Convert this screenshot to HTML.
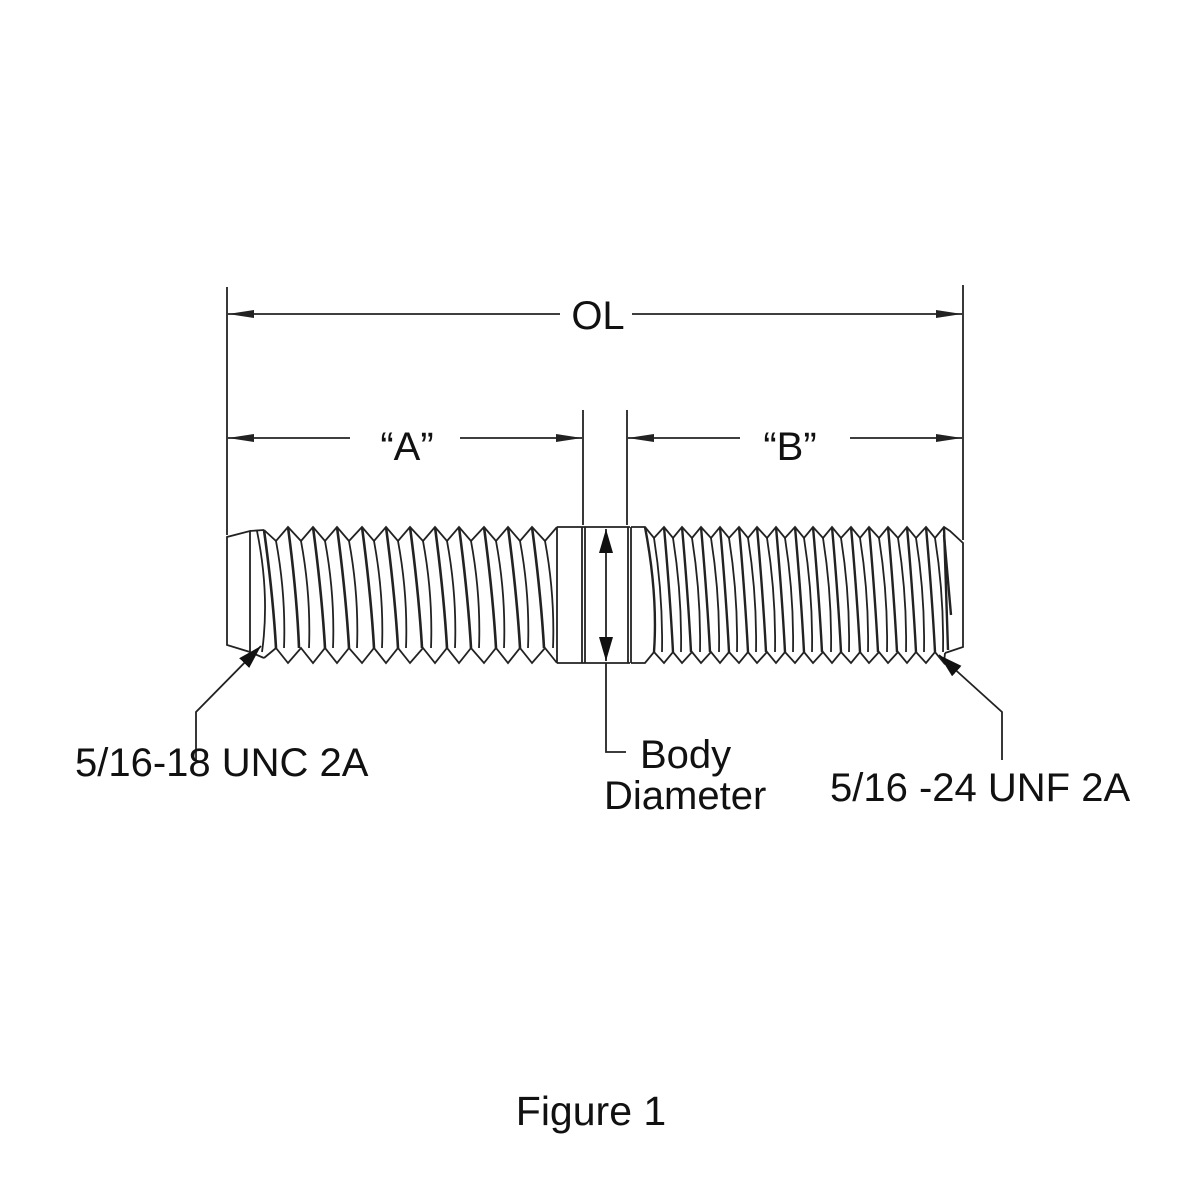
<!DOCTYPE html>
<html><head><style>body{margin:0;background:#fff}svg{display:block}</style></head>
<body>
<svg width="1200" height="1200" viewBox="0 0 1200 1200" xmlns="http://www.w3.org/2000/svg" font-family="Liberation Sans, sans-serif" fill="none" stroke="#222" stroke-width="1.8">
<defs><marker id="ar" viewBox="0 0 10 10" refX="10" refY="5" markerWidth="26" markerHeight="10" markerUnits="userSpaceOnUse" orient="auto" preserveAspectRatio="none"><path d="M0,1 L10,5 L0,9 Z" fill="#222" stroke="none"/></marker>
<marker id="al" viewBox="0 0 10 10" refX="10" refY="5" markerWidth="24" markerHeight="14" markerUnits="userSpaceOnUse" orient="auto" preserveAspectRatio="none"><path d="M0,0 L10,5 L0,10 Z" fill="#111" stroke="none"/></marker></defs>
<line x1="227" y1="287" x2="227" y2="535"/>
<line x1="963" y1="285" x2="963" y2="540"/>
<line x1="583" y1="410" x2="583" y2="525"/>
<line x1="627" y1="410" x2="627" y2="525"/>
<line x1="560" y1="314" x2="228" y2="314" marker-end="url(#ar)"/>
<line x1="632" y1="314" x2="962" y2="314" marker-end="url(#ar)"/>
<line x1="350" y1="438" x2="228" y2="438" marker-end="url(#ar)"/>
<line x1="460" y1="438" x2="582" y2="438" marker-end="url(#ar)"/>
<line x1="740" y1="438" x2="628" y2="438" marker-end="url(#ar)"/>
<line x1="850" y1="438" x2="962" y2="438" marker-end="url(#ar)"/>
<!-- left end -->
<path d="M227,537 V645 L250,652 L250,531 Z M250,531 L264,530 M250,652 L264,658 M257,531 Q270,595 262,652"/>
<path d="M264,530 L276,541 L288,527 L301,541 L313,527 L325,541 L337,527 L349,541 L362,527 L374,541 L386,527 L398,541 L410,527 L423,541 L435,527 L447,541 L459,527 L471,541 L484,527 L496,541 L508,527 L520,541 L532,527 L545,541 L557,527"/>
<path d="M264,658 L276,648 L288,663 L301,648 L313,663 L325,648 L337,663 L349,648 L362,663 L374,648 L386,663 L398,648 L410,663 L423,648 L435,663 L447,648 L459,663 L471,648 L484,663 L496,648 L508,663 L520,648 L532,663 L545,648 L557,663"/>
<path d="M276,541 Q286,595 284,648 M301,541 Q311,595 309,648 M325,541 Q335,595 333,648 M349,541 Q359,595 357,648 M374,541 Q384,595 382,648 M398,541 Q408,595 406,648 M423,541 Q433,595 431,648 M447,541 Q457,595 455,648 M471,541 Q481,595 479,648 M496,541 Q506,595 504,648 M520,541 Q530,595 528,648 M545,541 Q555,595 553,648"/>
<path stroke-width="2.6" d="M264,530 Q273,595 276,648 M288,527 Q297,595 299,648 M313,527 Q322,595 325,648 M337,527 Q346,595 349,648 M362,527 Q371,595 374,648 M386,527 Q395,595 398,648 M410,527 Q419,595 422,648 M435,527 Q444,595 447,648 M459,527 Q468,595 471,648 M484,527 Q493,595 496,648 M508,527 Q517,595 520,648 M532,527 Q541,595 544,648"/>
<!-- body -->
<path d="M557,527 H630 M557,663 H630 M582,527 V663 M585,527 V663 M628,527 V663 M631,527 V663 M557,527 V663"/>
<line x1="606" y1="595" x2="606" y2="529" marker-end="url(#al)"/>
<line x1="606" y1="595" x2="606" y2="661" marker-end="url(#al)"/>
<!-- right thread -->
<path d="M631,527 L645,527 L654,538 L664,527 L673,538 L682,527 L692,538 L701,527 L711,538 L720,527 L729,538 L739,527 L748,538 L757,527 L767,538 L776,527 L785,538 L795,527 L804,538 L813,527 L823,538 L832,527 L841,538 L851,527 L860,538 L869,527 L879,538 L888,527 L898,538 L907,527 L916,538 L926,527 L935,538 L944,527 L950,531 L963,543 V647 L945,653"/>
<path d="M631,663 L645,663 L654,652 L664,663 L673,652 L682,663 L692,652 L701,663 L711,652 L720,663 L729,652 L739,663 L748,652 L757,663 L767,652 L776,663 L785,652 L795,663 L804,652 L813,663 L823,652 L832,663 L841,652 L851,663 L860,652 L869,663 L879,652 L888,663 L898,652 L907,663 L916,652 L926,663 L935,652 L944,663 L945,653"/>
<path d="M654,538 Q663,595 662,652 M673,538 Q682,595 681,652 M692,538 Q701,595 700,652 M711,538 Q720,595 719,652 M729,538 Q738,595 737,652 M748,538 Q757,595 756,652 M767,538 Q776,595 775,652 M785,538 Q794,595 793,652 M804,538 Q813,595 812,652 M823,538 Q832,595 831,652 M841,538 Q850,595 849,652 M860,538 Q869,595 868,652 M879,538 Q888,595 887,652 M898,538 Q907,595 906,652 M916,538 Q925,595 924,652 M935,538 Q944,595 943,652"/>
<path stroke-width="2.4" d="M645,527 Q658,595 654,652 M664,527 Q670,595 673,652 M682,527 Q688,595 691,652 M701,527 Q707,595 710,652 M720,527 Q726,595 729,652 M739,527 Q745,595 748,652 M757,527 Q763,595 766,652 M776,527 Q782,595 785,652 M795,527 Q801,595 804,652 M813,527 Q819,595 822,652 M832,527 Q838,595 841,652 M851,527 Q857,595 860,652 M869,527 Q875,595 878,652 M888,527 Q894,595 897,652 M907,527 Q913,595 916,652 M926,527 Q932,595 935,652 M944,527 L948,650"/>
<path stroke-width="2.4" d="M944,535 L951,615"/>
<!-- leaders -->
<path d="M606,663 V752 H626"/>
<path d="M196,760 V712 L261,646" marker-end="url(#al)"/>
<path d="M1002,760 V712 L939,655" marker-end="url(#al)"/>
<g fill="#111" stroke="none" font-size="40">
<text x="598" y="329" text-anchor="middle">OL</text>
<text x="407" y="460" text-anchor="middle">“A”</text>
<text x="790" y="460" text-anchor="middle">“B”</text>
<text x="75" y="776">5/16-18 UNC 2A</text>
<text x="640" y="768">Body</text>
<text x="604" y="809">Diameter</text>
<text x="830" y="801">5/16 -24 UNF 2A</text>
<text x="591" y="1125" text-anchor="middle" font-size="41">Figure 1</text>
</g>
</svg>
</body></html>
